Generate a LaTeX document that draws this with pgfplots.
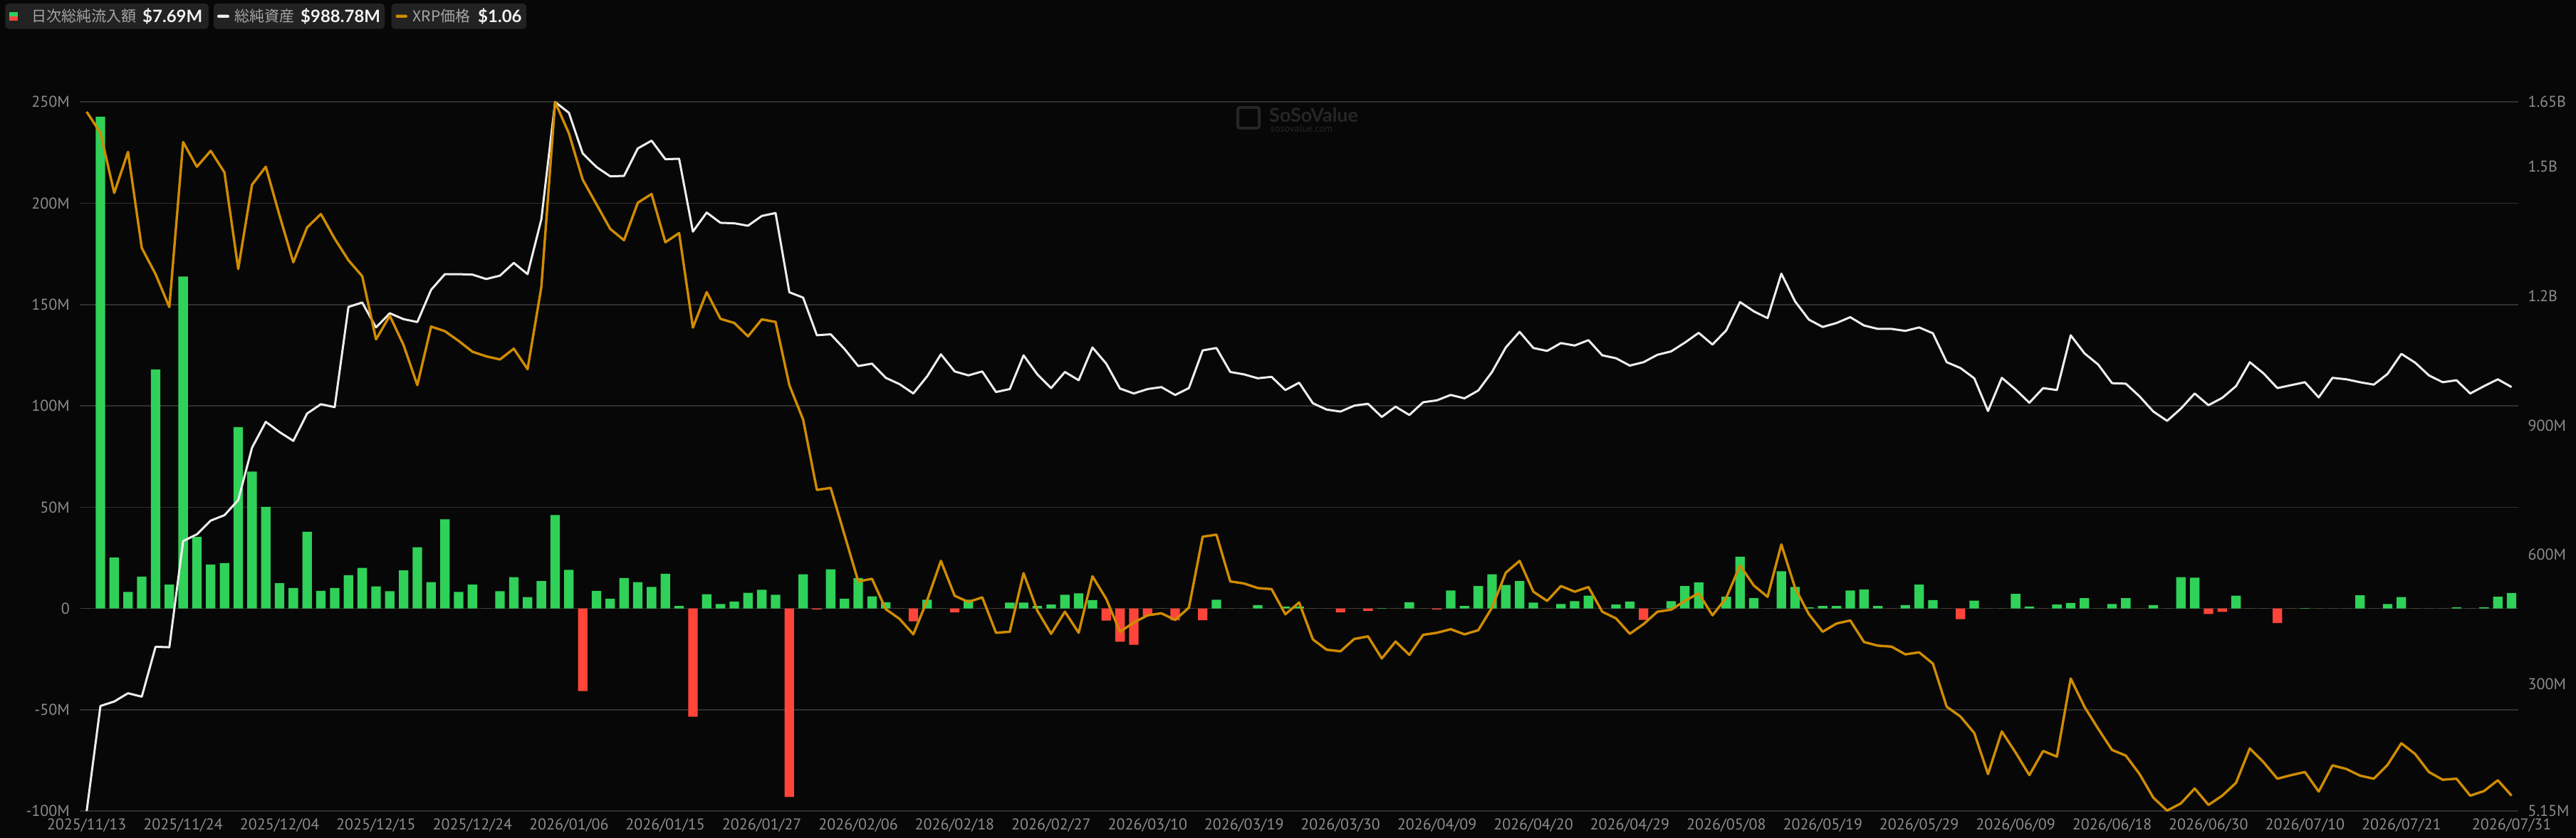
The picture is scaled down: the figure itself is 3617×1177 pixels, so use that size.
\documentclass[border=0pt]{standalone}
\usepackage{pgfplots}
\pgfplotsset{compat=1.18}
\usepackage{pgfplotstable}
\usepackage{fontspec}
\setmainfont{PT Sans}
\newfontfamily\cjk{Noto Sans CJK JP}
\newfontfamily\latof{Lato}
\definecolor{bgc}{HTML}{070707}
\definecolor{boxc}{HTML}{222222}
\definecolor{gridc}{HTML}{303030}
\definecolor{tickc}{HTML}{8C8C8C}
\definecolor{upc}{HTML}{30D158}
\definecolor{downc}{HTML}{FF453A}
\definecolor{linec}{HTML}{EEEEEE}
\definecolor{pricec}{HTML}{D08C00}
\definecolor{labc}{HTML}{A6A6A6}
\definecolor{valc}{HTML}{F2F2F2}
\definecolor{wmc}{HTML}{262626}

\pgfplotstableread{
i flow assets price
0 0 5.2 2.391
1 242.8 249.0 2.350
2 25.1 259.3 2.233
3 8.2 278.5 2.313
4 15.7 270.6 2.126
5 118.0 386.3 2.075
6 11.8 385.2 2.011
7 163.9 631.3 2.332
8 35.3 647.2 2.284
9 21.7 679.0 2.315
10 22.4 691.5 2.273
11 89.5 726.6 2.085
12 67.6 848.0 2.249
13 50.2 908.1 2.284
14 12.5 884.3 2.189
15 10.1 863.9 2.098
16 37.9 927.4 2.166
17 8.7 949.0 2.192
18 10.1 942.2 2.144
19 16.4 1174.7 2.102
20 20.0 1184.9 2.071
21 10.9 1127.1 1.948
22 8.5 1160.0 1.994
23 18.8 1146.3 1.937
24 30.2 1139.6 1.859
25 13.0 1214.4 1.973
26 44.0 1250.7 1.964
27 8.2 1250.7 1.945
28 11.8 1249.6 1.924
29 0 1239.4 1.915
30 8.5 1247.3 1.909
31 15.5 1276.8 1.930
32 5.6 1250.7 1.890
33 13.5 1377.8 2.050
34 46.1 1650.0 2.410
35 19.1 1625.0 2.349
36 -40.8 1530.9 2.259
37 8.7 1499.2 2.211
38 4.8 1477.6 2.163
39 15.0 1478.7 2.141
40 13.0 1542.3 2.214
41 10.6 1560.4 2.231
42 17.1 1517.3 2.137
43 1.2 1518.4 2.155
44 -53.4 1349.4 1.971
45 7.0 1393.6 2.040
46 2.2 1369.8 1.988
47 3.4 1368.7 1.980
48 7.7 1363.0 1.954
49 9.2 1385.7 1.987
50 6.8 1392.5 1.982
51 -93.0 1208.7 1.859
52 16.9 1196.3 1.792
53 -0.5 1108.9 1.655
54 19.3 1111.2 1.659
55 4.8 1077.2 1.568
56 15.0 1037.5 1.477
57 6.0 1043.1 1.482
58 3.1 1010.2 1.423
59 0 995.5 1.404
60 -6.3 973.9 1.374
61 4.3 1013.6 1.440
62 0 1064.7 1.517
63 -1.9 1025.0 1.449
64 4.3 1015.9 1.437
65 0 1025.0 1.446
66 0 977.3 1.377
67 2.9 984.1 1.379
68 2.9 1062.4 1.493
69 1.2 1018.2 1.420
70 1.9 986.4 1.375
71 6.8 1023.8 1.418
72 7.5 1004.6 1.377
73 4.1 1080.6 1.487
74 -6.0 1043.1 1.443
75 -16.4 985.3 1.379
76 -17.9 973.9 1.397
77 -3.6 984.1 1.411
78 0 988.7 1.415
79 -5.8 970.5 1.402
80 0 986.4 1.426
81 -5.8 1073.8 1.564
82 4.3 1079.4 1.568
83 0 1023.8 1.477
84 0 1018.2 1.473
85 1.7 1009.1 1.464
86 0 1012.5 1.462
87 1.0 981.8 1.413
88 1.0 998.9 1.436
89 0 951.2 1.364
90 0 936.5 1.344
91 -1.9 931.9 1.341
92 0 945.6 1.365
93 -1.2 950.1 1.370
94 0.2 919.5 1.327
95 0 943.3 1.360
96 3.1 924.0 1.334
97 0 953.5 1.373
98 -0.5 958.0 1.377
99 8.9 970.5 1.384
100 1.2 962.6 1.374
101 11.1 980.7 1.382
102 16.9 1023.8 1.426
103 11.6 1080.6 1.494
104 13.5 1116.9 1.517
105 2.9 1079.4 1.457
106 0 1072.6 1.439
107 2.2 1090.8 1.468
108 3.6 1085.1 1.457
109 6.3 1097.6 1.466
110 0 1062.4 1.418
111 1.9 1055.6 1.405
112 3.4 1038.6 1.375
113 -5.6 1046.5 1.394
114 0 1063.6 1.418
115 3.6 1071.5 1.422
116 11.1 1091.9 1.439
117 12.8 1114.6 1.454
118 0 1087.4 1.411
119 5.8 1120.3 1.445
120 25.6 1186.0 1.508
121 5.1 1164.5 1.469
122 0 1148.6 1.447
123 18.4 1251.8 1.549
124 10.6 1187.2 1.464
125 0.5 1145.2 1.413
126 1.2 1128.2 1.379
127 1.2 1137.3 1.395
128 8.9 1150.9 1.401
129 9.4 1131.6 1.359
130 1.2 1123.7 1.352
131 0 1123.7 1.350
132 1.7 1119.1 1.335
133 11.8 1127.1 1.339
134 4.1 1113.5 1.317
135 0 1046.5 1.233
136 -5.3 1032.9 1.214
137 3.9 1009.1 1.182
138 0 933.1 1.102
139 0 1010.2 1.185
140 7.2 983.0 1.144
141 1.0 952.4 1.100
142 0 986.4 1.147
143 1.9 981.8 1.136
144 2.7 1108.9 1.288
145 5.1 1067.0 1.233
146 0 1040.8 1.190
147 2.2 997.8 1.149
148 5.1 996.6 1.138
149 0 967.1 1.102
150 1.7 931.9 1.056
151 0 910.4 1.031
152 15.5 938.8 1.045
153 15.2 973.9 1.074
154 -2.7 946.7 1.042
155 -1.7 963.7 1.060
156 6.3 990.9 1.085
157 0 1046.5 1.152
158 0 1020.4 1.125
159 -7.2 986.4 1.093
160 0 993.2 1.100
161 0.2 1000.0 1.106
162 0 964.8 1.068
163 0 1010.2 1.119
164 0 1006.8 1.112
165 6.5 1000.0 1.099
166 0 994.4 1.093
167 2.2 1019.3 1.120
168 5.6 1065.8 1.162
169 0 1045.4 1.141
170 0 1015.9 1.106
171 0 1000.0 1.091
172 0.5 1004.6 1.093
173 0 973.9 1.060
174 0.5 990.9 1.069
175 5.8 1006.8 1.090
176 7.69 988.78 1.06
}\data

\pgfplotsset{base/.style={
  at={(111.7pt,37.8pt)}, anchor=south west,
  scale only axis, width=3424.3pt, height=995.9pt,
  xmin=-0.517, xmax=176.49,
  axis line style={draw=none},
  major tick style={draw=none}, minor tick style={draw=none},
  ticklabel style={font=\fontsize{22}{26}\selectfont, text=tickc, inner sep=0pt},
  /pgf/number format/assume math mode=true}}

\begin{document}
\begin{tikzpicture}[x=1pt,y=1pt]
\useasboundingbox (0,0) rectangle (3617,1177);
\fill[bgc] (0,0) rectangle (3617,1177);
% watermark
\draw[wmc, line width=4pt, rounded corners=3pt] (1738,997) rectangle (1768,1026);
\node[anchor=west, inner sep=0pt, text=wmc, font=\latof\bfseries\fontsize{27}{30}\selectfont] at (1782,1015) {SoSoValue};
\node[anchor=west, inner sep=0pt, text=wmc, font=\fontsize{14}{16}\selectfont] at (1784,996) {sosovalue.com};
% legend
\fill[boxc, rounded corners=5pt] (7.3,1136.3) rectangle (292.8,1172);
\fill[upc] (13,1154.3) rectangle (25,1160.3);
\fill[downc] (13,1148.3) rectangle (25,1154.3);
\node[anchor=west, inner sep=0pt, text=labc, font=\cjk\fontsize{21}{24}\selectfont] at (44.6,1154.3) {日次総純流入額};
\node[anchor=west, inner sep=0pt, text=valc, font=\latof\bfseries\fontsize{24}{28}\selectfont] at (200,1154.3) {\$7.69M};
\fill[boxc, rounded corners=5pt] (300,1136.3) rectangle (540,1172);
\fill[linec, rounded corners=2.1pt] (305,1152) rectangle (322,1156.3);
\node[anchor=west, inner sep=0pt, text=labc, font=\cjk\fontsize{21}{24}\selectfont] at (329.6,1154.3) {総純資産};
\node[anchor=west, inner sep=0pt, text=valc, font=\latof\bfseries\fontsize{24}{28}\selectfont] at (422,1154.3) {\$988.78M};
\fill[boxc, rounded corners=5pt] (549.7,1136.3) rectangle (739.2,1172);
\fill[pricec, rounded corners=2.1pt] (555.5,1152) rectangle (572,1156.3);
\node[anchor=west, inner sep=0pt, text=labc, font=\cjk\fontsize{21}{24}\selectfont] at (579.7,1154.3) {XRP価格};
\node[anchor=west, inner sep=0pt, text=valc, font=\latof\bfseries\fontsize{24}{28}\selectfont] at (671,1154.3) {\$1.06};

% bars
\begin{axis}[base, ymin=-100, ymax=250,
  ytick={-100,-50,0,50,100,150,200,250},
  yticklabels={-100M,-50M,0,50M,100M,150M,200M,250M},
  ymajorgrids, grid style={gridc, line width=1.6pt},
  xtick={0,7,14,21,28,35,42,49,56,63,70,77,84,91,98,105,112,119,126,133,140,147,154,161,168,176},
  xticklabels={2025/11/13,2025/11/24,2025/12/04,2025/12/15,2025/12/24,2026/01/06,2026/01/15,2026/01/27,2026/02/06,2026/02/18,2026/02/27,2026/03/10,2026/03/19,2026/03/30,2026/04/09,2026/04/20,2026/04/29,2026/05/08,2026/05/19,2026/05/29,2026/06/09,2026/06/18,2026/06/30,2026/07/10,2026/07/21,2026/07/31},
  yticklabel style={anchor=base east, xshift=-13.7pt, yshift=-7.7pt},
  xticklabel style={anchor=base, yshift=-26.5pt}]
\addplot[ybar, bar width=13.3pt, bar shift=0pt, fill=upc, draw=none, restrict y to domain=0:1000] table[x=i, y=flow] {\data};
\addplot[ybar, bar width=13.3pt, bar shift=0pt, fill=downc, draw=none, restrict y to domain=-1000:0] table[x=i, y=flow] {\data};
\end{axis}

% total assets (right axis)
\begin{axis}[base, ymin=5.15, ymax=1650, clip=false,
  axis y line*=right, axis x line=none, xtick=\empty,
  ytick={5.15,300,600,900,1200,1500,1650},
  yticklabels={5.15M,300M,600M,900M,1.2B,1.5B,1.65B},
  yticklabel style={anchor=base west, xshift=13.3pt, yshift=-7.7pt}]
\addplot[linec, line width=3pt, line join=round] table[x=i, y=assets] {\data};
\end{axis}

% XRP price (hidden axis)
\begin{axis}[base, ymin=1.03, ymax=2.41, clip=false, hide axis]
\addplot[pricec, line width=3.4pt, line join=round] table[x=i, y=price] {\data};
\end{axis}
\end{tikzpicture}
\end{document}
